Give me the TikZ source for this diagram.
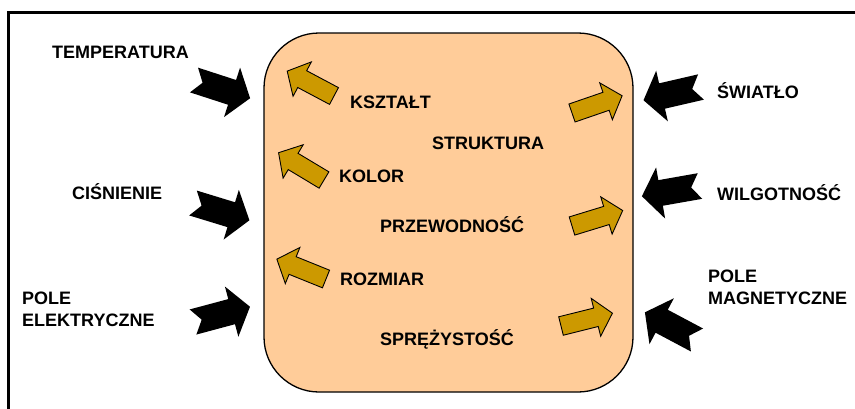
\documentclass[tikz,border=0pt]{standalone}
\usepackage{fontspec}
\setmainfont{Liberation Sans}
\definecolor{bodyfill}{HTML}{FFCC99}
\definecolor{goldarrow}{HTML}{CC9900}

\begin{document}
\begin{tikzpicture}[x=1pt,y=1pt,
  lbl/.style={font=\fontsize{18}{22}\selectfont\bfseries, inner sep=0pt, anchor=base west, align=left},
  % black notched arrow acting on the material (tail at origin, pointing +x)
  pics/inflow/.style={code={
    \fill[black] (0,13) -- (40,13) -- (40,26) -- (59,0) -- (40,-26) -- (40,-13)
      -- (0,-13) -- (9,0) -- cycle;}},
  % golden block arrow for a property of the material
  pics/outflow/.style={code={
    \filldraw[fill=goldarrow,draw=black,line width=0.9pt,line join=miter]
      (0,9.5) -- (36,9.5) -- (36,19.5) -- (53,0) -- (36,-19.5) -- (36,-9.5)
      -- (0,-9.5) -- cycle;}}]

\useasboundingbox (0,0) rectangle (855,-408);
\clip (0,0) rectangle (855,-408);

% outer frame
\draw[line width=2.5pt] (8.5,-420) -- (8.5,-12.5) -- (870,-12.5);

% material body
\node[draw=black, line width=1.3pt, fill=bodyfill, rounded corners=55pt,
      minimum width=369pt, minimum height=359pt, inner sep=0pt] (body) at (448.5,-212.5) {};

% properties inside the body
\node[lbl] (ksztalt)  at (350,-108) {KSZTAŁT};
\node[lbl] (struktura) at (432,-149) {STRUKTURA};
\node[lbl] (kolor)    at (339,-182) {KOLOR};
\node[lbl] (przew)    at (380,-232) {PRZEWODNOŚĆ};
\node[lbl] (rozmiar)  at (340,-285) {ROZMIAR};
\node[lbl] (sprez)    at (380,-345) {SPRĘŻYSTOŚĆ};

% external factors (multi-line labels are anchored on their last line)
\node[lbl] (temp)  at (52,-58)  {TEMPERATURA};
\node[lbl] (cisn)  at (72,-199) {CIŚNIENIE};
\node[lbl] (elek)  at (22,-326) {POLE\\ELEKTRYCZNE};
\node[lbl] (swiat) at (717,-98) {ŚWIATŁO};
\node[lbl] (wilg)  at (717,-200) {WILGOTNOŚĆ};
\node[lbl] (magn)  at (708,-304) {POLE\\MAGNETYCZNE};

% factors acting on the body
\pic[rotate=-18]  at (194,-80)  {inflow};
\pic[rotate=-17]  at (193,-203) {inflow};
\pic[rotate=15]   at (193,-322) {inflow};
\pic[rotate=193]  at (701,-87)  {inflow};
\pic[rotate=190]  at (700,-186) {inflow};
\pic[rotate=152]  at (697,-340) {inflow};

% properties changing in response
\pic[rotate=152]  at (334,-96)  {outflow};
\pic[rotate=149]  at (324,-180) {outflow};
\pic[rotate=158]  at (326,-279) {outflow};
\pic[rotate=19]   at (572,-113) {outflow};
\pic[rotate=17]   at (572,-226) {outflow};
\pic[rotate=14]   at (561,-326) {outflow};
\end{tikzpicture}
\end{document}
